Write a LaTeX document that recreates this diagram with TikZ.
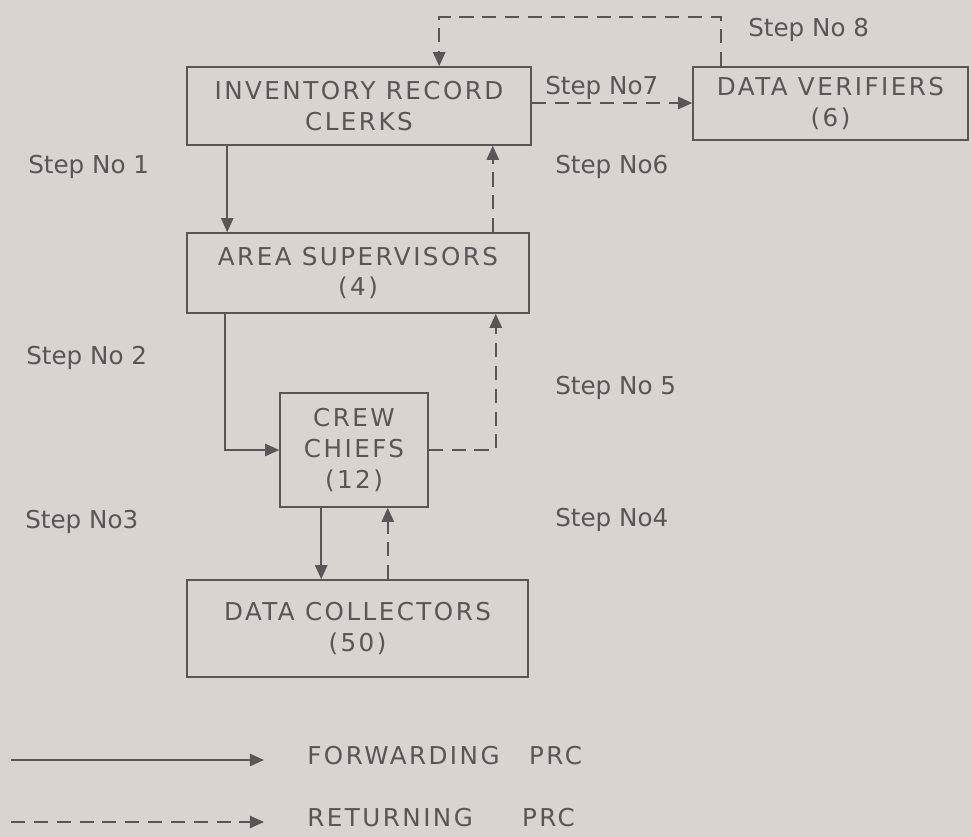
\documentclass[tikz,border=0pt]{standalone}
\usepackage{fontspec}
\setmainfont{DejaVu Sans}
\newfontfamily\boxfont[LetterSpace=10]{DejaVu Sans}
\usetikzlibrary{arrows.meta}
\definecolor{paper}{HTML}{D9D4D0}
\definecolor{ink}{HTML}{5A5556}
\begin{document}
\begin{tikzpicture}[x=0.02cm, y=-0.02cm, every node/.style={text=ink},
  box/.style={draw=ink, line width=0.9pt, align=center, inner sep=0pt, font=\boxfont\fontsize{14}{17.5}\selectfont},
  steplabel/.style={anchor=west, inner sep=0pt, font=\fontsize{14}{16}\selectfont},
  legendlabel/.style={anchor=west, inner sep=0pt, font=\boxfont\fontsize{14}{16}\selectfont},
  fwd/.style={draw=ink, line width=0.9pt, -{Triangle[length=8pt,width=7pt]}},
  ret/.style={fwd, dash pattern=on 8pt off 5pt}]
\fill[paper] (0,0) rectangle (971,837);
\useasboundingbox (0,0) rectangle (971,837);
% boxes
\node[box, minimum width=6.88cm, minimum height=1.56cm] (irc) at (359,106) {INVENTORY RECORD\\CLERKS};
\node[box, minimum width=5.5cm, minimum height=1.46cm] (dv) at (830.5,103.5) {DATA VERIFIERS\\(6)};
\node[box, minimum width=6.84cm, minimum height=1.6cm] (as) at (358,273) {AREA SUPERVISORS\\(4)};
\node[box, minimum width=2.96cm, minimum height=2.28cm] (cc) at (354,450) {CREW\\CHIEFS\\(12)};
\node[box, minimum width=6.82cm, minimum height=1.94cm] (dc) at (357.5,628.5) {DATA COLLECTORS\\(50)};
% forwarding and returning
\draw[fwd] ([xshift=0.82cm]irc.south west) -- ([xshift=0.82cm]irc.south west |- as.north);
\draw[ret] ([xshift=-0.74cm]as.north east) -- ([xshift=-0.74cm]as.north east |- irc.south);
\draw[fwd] ([xshift=0.78cm]as.south west) |- (cc.west);
\draw[ret] (cc.east) -| ([xshift=-0.68cm]as.south east);
\draw[fwd] ([xshift=0.84cm]cc.south west) -- ([xshift=0.84cm]cc.south west |- dc.north);
\draw[ret] ([xshift=-0.82cm]cc.south east |- dc.north) -- ([xshift=-0.82cm]cc.south east);
\draw[ret] ([yshift=0.06cm]irc.east) -- ([yshift=0.06cm]irc.east -| dv.west);
\coordinate (loop) at (580,17);
\draw[ret] ([xshift=0.58cm]dv.north west) |- (loop) -| ([xshift=5.06cm]irc.north west);
% step labels
\node[steplabel] (s1) at (28,167) {Step No 1};
\node[steplabel] (s2) at (26,358) {Step No 2};
\node[steplabel] (s3) at (25,522) {Step No3};
\node[steplabel] (s4) at (555,520) {Step No4};
\node[steplabel] (s5) at (555,388) {Step No 5};
\node[steplabel] (s6) at (555,167) {Step No6};
\node[steplabel] (s7) at (545,88) {Step No7};
\node[steplabel] (s8) at (748,30) {Step No 8};
% legend
\coordinate (fwdA) at (11,760);
\coordinate (fwdB) at (264,760);
\coordinate (retA) at (11,822);
\coordinate (retB) at (264,822);
\draw[fwd] (fwdA) -- (fwdB);
\draw[ret] (retA) -- (retB);
\node[legendlabel] (fwdtext) at (307,756) {FORWARDING\hspace{1.2em}PRC};
\node[legendlabel] (rettext) at (307,818) {RETURNING\hspace{2em}PRC};
\end{tikzpicture}
\end{document}
